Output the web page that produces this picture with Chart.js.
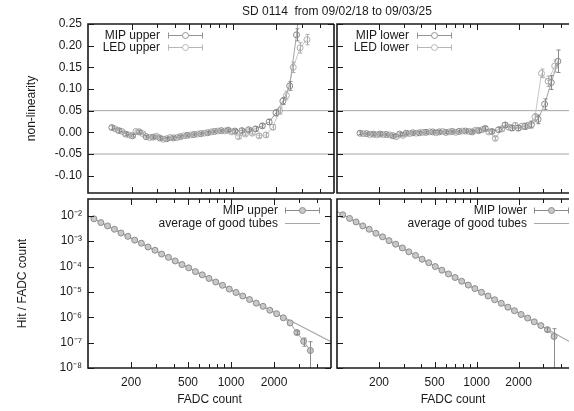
<!DOCTYPE html>
<html>
<head>
<meta charset="utf-8">
<script src="https://cdn.jsdelivr.net/npm/chart.js@4.4.1/dist/chart.umd.min.js"></script>
<style>
  html, body { margin: 0; padding: 0; background: #fff; overflow: hidden; }
  #wrap { position: relative; width: 574px; height: 411px; }
  canvas { position: absolute; }
</style>
</head>
<body>
<div id="wrap">
  <canvas id="tl" width="574" height="198" style="left:0;top:0"></canvas>
  <canvas id="tr" width="242" height="198" style="left:332px;top:0"></canvas>
  <canvas id="bl" width="336" height="217" style="left:0;top:194px"></canvas>
  <canvas id="br" width="242" height="217" style="left:332px;top:194px"></canvas>
</div>
<script>
// ---- data ----
const titleText = 'SD 0114  from 09/02/18 to 09/03/25';

// x axis (FADC count, log)
const xTickValues = [200, 300, 400, 500, 600, 700, 800, 900, 1000, 2000, 3000, 4000];
const xTickLabels = [200, 500, 1000, 2000];
const xRangeLeft = [100, 5000];
const xRangeRight = [100, 4590];   // right panels are cut at the picture edge

// non-linearity panels
const nlTicks = [-0.10, -0.05, 0.00, 0.05, 0.10, 0.15, 0.20, 0.25];
const nlRange = [-0.14, 0.25];
const refLevels = [0.05, -0.05];

const mipX = [146, 163, 182, 203, 226, 252, 281, 313, 349, 389, 434, 484, 539, 601, 670, 747, 833, 929,
  1035, 1154, 1287, 1435, 1600, 1783, 1988, 2217, 2471, 2755, 3072];
const mipUpperNL = [0.011, 0.004, -0.004, -0.008, 0.001, -0.010, -0.011, -0.013, -0.015, -0.013, -0.010,
  -0.007, -0.005, -0.003, -0.001, 0.002, 0.004, 0.005, 0.003, 0.004, 0.006, 0.008, 0.015, 0.024, 0.045,
  0.072, 0.107, 0.225, 0.380];
const mipUpperErr = [0.004, 0.004, 0.003, 0.003, 0.003, 0.003, 0.003, 0.003, 0.003, 0.003, 0.003, 0.003,
  0.003, 0.003, 0.003, 0.003, 0.003, 0.003, 0.004, 0.004, 0.004, 0.005, 0.005, 0.006, 0.007, 0.008, 0.010,
  0.014, 0.020];

const ledX = [154, 172, 192, 214, 239, 266, 297, 331, 369, 411, 459, 511, 570, 635, 708, 790, 881, 982,
  1095, 1221, 1361, 1518, 1692, 1887, 2104, 2346, 2616, 2917, 3252];
const ledUpperNL = [0.008, 0.002, -0.006, 0.002, -0.003, -0.012, -0.009, -0.016, -0.012, -0.012, -0.008,
  -0.006, -0.004, -0.002, 0.001, 0.003, 0.003, 0.001, -0.010, -0.004, -0.002, -0.008, -0.006, 0.012, 0.050,
  0.085, 0.150, 0.195, 0.214];
const ledUpperErr = [0.003, 0.003, 0.003, 0.003, 0.003, 0.003, 0.003, 0.003, 0.003, 0.003, 0.003, 0.003,
  0.003, 0.003, 0.003, 0.003, 0.003, 0.004, 0.004, 0.004, 0.004, 0.005, 0.005, 0.006, 0.008, 0.010, 0.012,
  0.012, 0.012];

const mipLowerX = [146, 163, 182, 203, 226, 252, 281, 313, 349, 389, 434, 484, 539, 601, 670, 747, 833, 929,
  1035, 1154, 1287, 1435, 1600, 1783, 1988, 2217, 2471, 2755, 3072, 3425, 3819];
const mipLowerNL = [-0.002, -0.003, -0.004, -0.004, -0.005, -0.008, -0.004, -0.002, -0.001, -0.001, 0.000,
  0.001, 0.001, 0.000, 0.002, 0.002, 0.003, 0.001, 0.004, 0.009, 0.002, 0.006, 0.017, 0.010, 0.010, 0.014,
  0.018, 0.030, 0.065, 0.115, 0.164];
const mipLowerErr = [0.003, 0.003, 0.003, 0.003, 0.003, 0.003, 0.003, 0.003, 0.003, 0.003, 0.003, 0.003,
  0.003, 0.003, 0.003, 0.003, 0.003, 0.003, 0.004, 0.004, 0.004, 0.005, 0.005, 0.006, 0.006, 0.007, 0.008,
  0.010, 0.012, 0.016, 0.026];

const ledLowerX = [154, 172, 192, 214, 239, 266, 297, 331, 369, 411, 459, 511, 570, 635, 708, 790, 881, 982,
  1095, 1221, 1361, 1518, 1692, 1887, 2104, 2346, 2616, 2917, 3252, 3627];
const ledLowerNL = [-0.003, -0.005, -0.006, -0.005, -0.006, -0.010, -0.007, -0.003, -0.002, 0.000, 0.001,
  -0.001, 0.002, 0.001, 0.000, 0.003, 0.002, 0.005, 0.006, 0.001, -0.014, 0.008, 0.012, 0.016, 0.014, 0.016,
  0.035, 0.136, 0.118, 0.153];
const ledLowerErr = [0.003, 0.003, 0.003, 0.003, 0.003, 0.003, 0.003, 0.003, 0.003, 0.003, 0.003, 0.003,
  0.003, 0.003, 0.003, 0.003, 0.003, 0.004, 0.004, 0.004, 0.004, 0.005, 0.005, 0.006, 0.006, 0.007, 0.008,
  0.010, 0.012, 0.014];

// hit spectrum panels (log y)
const hitTicks = [1e-8, 1e-7, 1e-6, 1e-5, 1e-4, 1e-3, 1e-2];
const hitTickLabels = ['10⁻⁸', '10⁻⁷', '10⁻⁶', '10⁻⁵', '10⁻⁴', '10⁻³', '10⁻²'];
const hitRange = [1e-8, 0.046];

const hitX = [110, 123, 137, 153, 170, 190, 212, 236, 263, 294, 327, 365, 407, 454, 506, 564, 629, 701, 782,
  872, 972, 1084, 1208, 1347, 1502, 1675, 1867, 2082, 2321, 2588, 2886, 3218, 3588];
const hitUpper = [7.6e-3, 5.4e-3, 4.0e-3, 2.95e-3, 2.1e-3, 1.55e-3, 1.1e-3, 8.3e-4, 5.9e-4, 4.4e-4, 3.1e-4,
  2.3e-4, 1.66e-4, 1.2e-4, 8.9e-5, 6.3e-5, 4.7e-5, 3.4e-5, 2.45e-5, 1.82e-5, 1.29e-5, 9.5e-6, 6.9e-6, 5.0e-6,
  3.6e-6, 2.7e-6, 1.9e-6, 1.38e-6, 9.5e-7, 6.0e-7, 2.5e-7, 1.12e-7, 4.9e-8];
const hitUpperErr = [0, 0, 0, 0, 0, 0, 0, 0, 0, 0, 0, 0, 0, 0, 0, 0, 0, 0, 0, 0, 0, 0, 0, 0, 0, 0, 0, 0,
  0, 0, 4e-8, 4e-8, 6e-8];
const hitLower = [1.1e-2, 7.9e-3, 5.75e-3, 4.0e-3, 2.95e-3, 2.05e-3, 1.48e-3, 1.05e-3, 7.6e-4, 5.4e-4, 3.8e-4,
  2.75e-4, 1.95e-4, 1.41e-4, 1.0e-4, 7.2e-5, 5.1e-5, 3.7e-5, 2.63e-5, 1.86e-5, 1.35e-5, 9.6e-6, 6.9e-6,
  4.9e-6, 3.55e-6, 2.5e-6, 1.82e-6, 1.29e-6, 9.3e-7, 6.6e-7, 4.7e-7, 3.25e-7, 1.75e-7];
const hitLowerErr = [0, 0, 0, 0, 0, 0, 0, 0, 0, 0, 0, 0, 0, 0, 0, 0, 0, 0, 0, 0, 0, 0, 0, 0, 0, 0, 0, 0,
  0, 0, 0, 6e-8, 1.8e-7];

const avgX = [100, 200, 500, 1000, 2000, 5000];
const avgUpper = [1.0e-2, 1.32e-3, 9.1e-5, 1.2e-5, 1.59e-6, 1.09e-7];
const avgLower = [1.48e-2, 1.75e-3, 1.04e-4, 1.23e-5, 1.46e-6, 8.6e-8];

// ---- drawing ----
const FONT = "'Liberation Sans', Arial, Helvetica, sans-serif";
const INK = '#1a1a1a';
const pts = (xs, ys) => xs.map((x, i) => ({ x: x, y: ys[i] }));

// per-panel extras, kept out of chart options so chart.js doesn't resolve them
const topLegend = (a, b) => ({
  top: 11, gap: 12, textRight: 72, x1: 80, x2: 115,
  items: [
    { text: a, color: '#959595', bars: true, point: true, fill: '#ffffff' },
    { text: b, color: '#b6b6b6', bars: true, point: true, fill: '#ffffff' }
  ]
});
const bottomLegend = a => ({
  top: 11, gap: 13, textRight: 190, x1: 197, x2: 232,
  items: [
    { text: a, color: '#8c8c8c', bars: true, point: true, fill: '#c8c8c8' },
    { text: 'average of good tubes', color: '#a8a8a8', bars: false, point: false }
  ]
});
const decor = {
  tl: { rightSide: true, legend: topLegend('MIP upper', 'LED upper'), title: { text: titleText, x: 337, y: 12 } },
  tr: { rightSide: false, legend: topLegend('MIP lower', 'LED lower') },
  bl: { rightSide: true, legend: bottomLegend('MIP upper') },
  br: { rightSide: false, legend: bottomLegend('MIP lower') }
};

// inward ticks, frame, error bars, gnuplot-like legend
const panelDecor = {
  id: 'panelDecor',
  afterDatasetsDraw(chart) {
    const o = decor[chart.canvas.id];
    const ctx = chart.ctx, a = chart.chartArea;
    const xs = chart.scales.x, ys = chart.scales.y;
    ctx.save();
    ctx.beginPath();
    ctx.rect(a.left, a.top, a.right - a.left, a.bottom - a.top);
    ctx.clip();
    chart.data.datasets.forEach(ds => {
      if (!ds.errors) return;
      ctx.strokeStyle = ds.pointBorderColor || ds.borderColor;
      ctx.lineWidth = 1;
      ctx.beginPath();
      ds.data.forEach((p, i) => {
        const e = ds.errors[i];
        if (!e) return;
        const px = Math.round(xs.getPixelForValue(p.x)) + 0.5;
        const lo = p.y - e;
        const yLo = (ys.type !== 'logarithmic' || lo > 0) ? ys.getPixelForValue(lo) : a.bottom + 2;
        const yHi = ys.getPixelForValue(p.y + e);
        ctx.moveTo(px, yLo); ctx.lineTo(px, yHi);
        ctx.moveTo(px - 2, yLo); ctx.lineTo(px + 2, yLo);
        ctx.moveTo(px - 2, yHi); ctx.lineTo(px + 2, yHi);
      });
      ctx.stroke();
    });
    ctx.restore();

    ctx.save();
    ctx.strokeStyle = INK;
    ctx.lineWidth = 1;
    ctx.beginPath();
    ys.ticks.forEach(t => {
      const y = Math.round(ys.getPixelForValue(t.value)) + 0.5;
      ctx.moveTo(a.left, y); ctx.lineTo(a.left + 6, y);
      if (o.rightSide) { ctx.moveTo(a.right, y); ctx.lineTo(a.right - 6, y); }
    });
    xs.ticks.forEach(t => {
      const x = Math.round(xs.getPixelForValue(t.value)) + 0.5;
      const len = xTickLabels.includes(t.value) ? 6 : 4;
      ctx.moveTo(x, a.bottom); ctx.lineTo(x, a.bottom - len);
      ctx.moveTo(x, a.top); ctx.lineTo(x, a.top + len);
    });
    ctx.stroke();

    ctx.lineWidth = 1.6;
    ctx.beginPath();
    ctx.moveTo(a.right, a.top); ctx.lineTo(a.left, a.top);
    ctx.lineTo(a.left, a.bottom); ctx.lineTo(a.right, a.bottom);
    if (o.rightSide) { ctx.moveTo(a.right, a.top); ctx.lineTo(a.right, a.bottom); }
    ctx.stroke();

    const lg = o.legend;
    ctx.font = '12px ' + FONT;
    ctx.textAlign = 'right';
    ctx.textBaseline = 'middle';
    lg.items.forEach((it, i) => {
      const y = Math.round(a.top + lg.top + i * lg.gap) + 0.5;
      ctx.fillStyle = INK;
      ctx.fillText(it.text, a.left + lg.textRight, y);
      const x1 = a.left + lg.x1, x2 = a.left + lg.x2;
      ctx.strokeStyle = it.color;
      ctx.lineWidth = 1;
      ctx.beginPath();
      ctx.moveTo(x1, y); ctx.lineTo(x2, y);
      if (it.bars) {
        ctx.moveTo(x1 + 0.5, y - 3); ctx.lineTo(x1 + 0.5, y + 3);
        ctx.moveTo(x2 - 0.5, y - 3); ctx.lineTo(x2 - 0.5, y + 3);
      }
      ctx.stroke();
      if (it.point) {
        ctx.beginPath();
        ctx.arc((x1 + x2) / 2, y, 3, 0, Math.PI * 2);
        ctx.fillStyle = it.fill;
        ctx.fill();
        ctx.stroke();
      }
    });

    if (o.title) {
      ctx.fillStyle = INK;
      ctx.textAlign = 'center';
      ctx.fillText(o.title.text, o.title.x, o.title.y);
    }
    ctx.restore();
  }
};
Chart.register(panelDecor);

function xAxis(range, showLabels) {
  return {
    type: 'logarithmic', min: range[0], max: range[1], display: showLabels,
    afterBuildTicks: s => { s.ticks = xTickValues.map(v => ({ value: v })); },
    afterFit: s => { s.height = showLabels ? 43 : 0; s.paddingLeft = 0; s.paddingRight = 0; },
    ticks: {
      autoSkip: false, maxRotation: 0, padding: 7, color: INK, font: { family: FONT, size: 12 },
      callback: v => xTickLabels.includes(v) ? String(v) : ''
    },
    grid: { display: false, drawTicks: false },
    border: { display: false },
    title: { display: showLabels, text: 'FADC count', color: INK, font: { family: FONT, size: 12 },
      padding: { top: 0, bottom: 4 } }
  };
}

function nlAxis(showLabels) {
  return {
    type: 'linear', min: nlRange[0], max: nlRange[1], display: showLabels,
    afterBuildTicks: s => { s.ticks = nlTicks.map(v => ({ value: v })); },
    afterFit: s => { s.width = showLabels ? 88 : 0; s.paddingTop = 0; s.paddingBottom = 0; },
    ticks: { padding: 6, color: INK, font: { family: FONT, size: 12 }, callback: v => v.toFixed(2) },
    grid: { display: false, drawTicks: false },
    border: { display: false },
    title: { display: showLabels, text: 'non-linearity', color: INK, font: { family: FONT, size: 12 },
      padding: { top: 24, bottom: 0 } }
  };
}

function hitAxis(showLabels) {
  return {
    type: 'logarithmic', min: hitRange[0], max: hitRange[1], display: showLabels,
    afterBuildTicks: s => { s.ticks = hitTicks.map(v => ({ value: v })); },
    afterFit: s => { s.width = showLabels ? 88 : 0; s.paddingTop = 0; s.paddingBottom = 0; },
    ticks: { padding: 6, color: INK, font: { family: FONT, size: 12 },
      callback: (v, i) => hitTickLabels[i] },
    grid: { display: false, drawTicks: false },
    border: { display: false },
    title: { display: showLabels, text: 'Hit / FADC count', color: INK, font: { family: FONT, size: 12 },
      padding: { top: 15, bottom: 0 } }
  };
}

function nlSet(label, xs, ys, errs, dark) {
  return {
    label: label, data: pts(xs, ys), errors: errs, showLine: true,
    borderColor: dark ? '#a2a2a2' : '#c6c6c6', borderWidth: 1,
    pointRadius: 3, pointBorderWidth: 1,
    pointBorderColor: dark ? '#888888' : '#adadad', pointBackgroundColor: 'rgba(255,255,255,0)'
  };
}

function refSets(range) {
  return refLevels.map(l => ({
    label: 'ref', data: [{ x: range[0], y: l }, { x: range[1], y: l }], showLine: true,
    borderColor: '#a4a4a4', borderWidth: 1, pointRadius: 0
  }));
}

function hitSets(label, ys, errs, avg) {
  return [
    { label: label, data: pts(hitX, ys), errors: errs, showLine: true,
      borderColor: '#a0a0a0', borderWidth: 1, pointRadius: 3, pointBorderWidth: 1,
      pointBorderColor: '#8c8c8c', pointBackgroundColor: '#c8c8c8' },
    { label: 'average of good tubes', data: pts(avgX, avg), showLine: true,
      borderColor: '#a8a8a8', borderWidth: 1.2, pointRadius: 0 }
  ];
}

function makeChart(id, datasets, scales, padding) {
  return new Chart(document.getElementById(id), {
    type: 'scatter',
    data: { datasets: datasets },
    options: {
      responsive: false, animation: false, devicePixelRatio: 1, events: [],
      layout: { padding: padding },
      scales: scales,
      plugins: { legend: { display: false }, tooltip: { enabled: false } }
    }
  });
}

makeChart('tl',
  [nlSet('MIP upper', mipX, mipUpperNL, mipUpperErr, true),
   nlSet('LED upper', ledX, ledUpperNL, ledUpperErr, false)].concat(refSets(xRangeLeft)),
  { x: xAxis(xRangeLeft, false), y: nlAxis(true) },
  { left: 0, top: 24, right: 240, bottom: 2 });

makeChart('tr',
  [nlSet('MIP lower', mipLowerX, mipLowerNL, mipLowerErr, true),
   nlSet('LED lower', ledLowerX, ledLowerNL, ledLowerErr, false)].concat(refSets(xRangeRight)),
  { x: xAxis(xRangeRight, false), y: nlAxis(false) },
  { left: 1, top: 24, right: 0, bottom: 2 });

makeChart('bl',
  hitSets('MIP upper', hitUpper, hitUpperErr, avgUpper),
  { x: xAxis(xRangeLeft, true), y: hitAxis(true) },
  { left: 0, top: 2, right: 2, bottom: 0 });

makeChart('br',
  hitSets('MIP lower', hitLower, hitLowerErr, avgLower),
  { x: xAxis(xRangeRight, true), y: hitAxis(false) },
  { left: 1, top: 2, right: 0, bottom: 0 });
</script>
</body>
</html>
